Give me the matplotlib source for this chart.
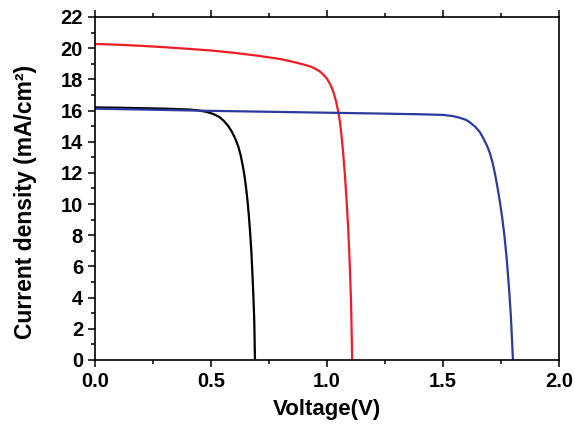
import matplotlib
matplotlib.use("Agg")
import matplotlib.pyplot as plt
from matplotlib.ticker import MultipleLocator

plt.rcParams["font.family"] = ["Liberation Sans", "DejaVu Sans"]
plt.rcParams["font.weight"] = "bold"

# J-V curves (voltage in V, current density in mA/cm^2)
black_v = [0.0, 0.1, 0.2, 0.3, 0.4, 0.44, 0.48, 0.51, 0.535, 0.555, 0.575, 0.59,
           0.605, 0.618, 0.628, 0.637, 0.645, 0.652, 0.658, 0.664, 0.67, 0.675,
           0.68, 0.684, 0.687, 0.69]
black_j = [16.2, 16.18, 16.15, 16.12, 16.07, 16.02, 15.92, 15.78, 15.6, 15.35, 15.0, 14.65,
           14.2, 13.7, 13.15, 12.5, 11.8, 11.0, 10.2, 9.2, 8.0, 6.8,
           5.2, 3.8, 2.5, 0.0]

red_v = [0.0, 0.1, 0.2, 0.3, 0.4, 0.5, 0.6, 0.7, 0.8, 0.86, 0.9, 0.93, 0.95, 0.97,
         0.985, 1.0, 1.01, 1.02, 1.03, 1.04, 1.048, 1.056, 1.063, 1.07, 1.078,
         1.085, 1.092, 1.098, 1.104, 1.109]
red_j = [20.27, 20.22, 20.15, 20.06, 19.96, 19.85, 19.7, 19.52, 19.3, 19.1, 18.95, 18.82, 18.68, 18.5,
         18.3, 18.05, 17.8, 17.5, 17.1, 16.55, 16.0, 15.3, 14.4, 13.3, 11.8,
         10.2, 8.4, 6.3, 3.8, 0.0]

blue_v = [0.0, 0.25, 0.5, 0.75, 1.0, 1.25, 1.4, 1.5, 1.54, 1.57, 1.6, 1.62, 1.64,
          1.66, 1.675, 1.69, 1.703, 1.715, 1.725, 1.735, 1.745, 1.755, 1.765,
          1.775, 1.785, 1.793, 1.802]
blue_j = [16.12, 16.05, 15.98, 15.92, 15.86, 15.8, 15.76, 15.72, 15.65, 15.55, 15.4, 15.2, 14.95,
          14.6, 14.2, 13.75, 13.25, 12.6, 11.9, 11.1, 10.2, 9.2, 8.0,
          6.5, 4.6, 2.8, 0.0]

fig = plt.figure(figsize=(5.75, 4.32), dpi=100)
ax = fig.add_axes([0.165, 0.1667, 0.807, 0.794])

ax.plot(black_v, black_j, color="black", lw=1.6, solid_joinstyle="round")
ax.plot(red_v, red_j, color="#ee1c25", lw=1.6, solid_joinstyle="round")
ax.plot(blue_v, blue_j, color="#2b3a9c", lw=1.6, solid_joinstyle="round")

ax.set_xlim(0, 2.0)
ax.set_ylim(0, 22)
ax.xaxis.set_major_locator(MultipleLocator(0.5))
ax.xaxis.set_minor_locator(MultipleLocator(0.25))
ax.yaxis.set_major_locator(MultipleLocator(2))
ax.yaxis.set_minor_locator(MultipleLocator(1))
ax.xaxis.set_major_formatter(plt.FormatStrFormatter("%.1f"))

ax.tick_params(which="both", direction="out", top=True, right=False,
               labeltop=False, width=1.1, labelsize=14.5)
ax.tick_params(which="major", length=5)
ax.tick_params(which="minor", length=3)
for s in ax.spines.values():
    s.set_linewidth(1.2)

ax.set_xlabel("Voltage(V)", fontsize=16, fontweight="bold", labelpad=6)
ax.set_ylabel("Current density (mA/cm²)", fontsize=16.5, fontweight="bold")
ax.yaxis.set_label_coords(-0.125, 0.46)

fig.savefig("out.png", dpi=100)
